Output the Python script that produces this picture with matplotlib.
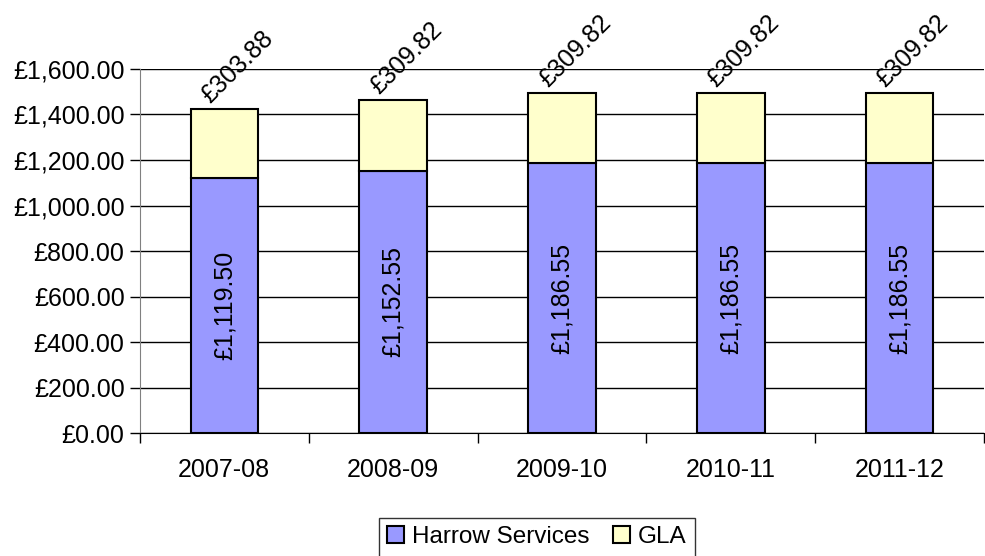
import matplotlib
matplotlib.use('Agg')
import matplotlib.pyplot as plt
import numpy as np

years = ['2007-08', '2008-09', '2009-10', '2010-11', '2011-12']
harrow = [1119.50, 1152.55, 1186.55, 1186.55, 1186.55]
gla = [303.88, 309.82, 309.82, 309.82, 309.82]

plt.rcParams.update({'font.size': 18, 'font.family': ['Liberation Sans', 'DejaVu Sans']})

fig = plt.figure(figsize=(9.85, 5.56), dpi=100)
ax = fig.add_axes([0.142, 0.221, 0.857, 0.655])

x = np.arange(len(years))
w = 0.4
ax.bar(x, harrow, w, color='#9999FF', edgecolor='black', linewidth=1.5, label='Harrow Services', zorder=3)
ax.bar(x, gla, w, bottom=harrow, color='#FFFFCC', edgecolor='black', linewidth=1.5, label='GLA', zorder=3)

for i in range(len(years)):
    ax.text(x[i], harrow[i] / 2, '£{:,.2f}'.format(harrow[i]), rotation=90,
            ha='center', va='center', fontsize=18)
    ax.annotate('£{:,.2f}'.format(gla[i]), (x[i], harrow[i] + gla[i]),
                xytext=(13, 42), textcoords='offset pixels', rotation=45,
                ha='center', va='center', fontsize=18, annotation_clip=False)

ax.set_xlim(-0.5, len(years) - 0.5)
ax.set_ylim(0, 1600)
ax.set_yticks(np.arange(0, 1601, 200))
ax.set_yticklabels(['£{:,.2f}'.format(v) for v in np.arange(0, 1601, 200)])
ax.yaxis.grid(True, color='black', linewidth=1, zorder=0)

ax.set_xticks(x)
ax.set_xticklabels(years)
ax.tick_params(axis='x', length=0, pad=18)
ax.set_xticks(np.arange(-0.5, len(years)), minor=True)
ax.tick_params(axis='x', which='minor', length=7, width=1, color='black')
ax.tick_params(axis='y', length=7, width=1, color='black', pad=4)

for s in ['top', 'right']:
    ax.spines[s].set_visible(False)
ax.spines['left'].set_color('#808080')
ax.spines['bottom'].set_color('black')

leg = fig.legend(loc='center', bbox_to_anchor=(0.545, 0.034), ncol=2, frameon=True,
                 fancybox=False, edgecolor='black', handlelength=0.7, handleheight=0.7,
                 handletextpad=0.3, columnspacing=1.0, borderpad=0.35, borderaxespad=0.2,
                 fontsize=17.5)
leg.get_frame().set_linewidth(1)

fig.savefig('out.png', dpi=100)
